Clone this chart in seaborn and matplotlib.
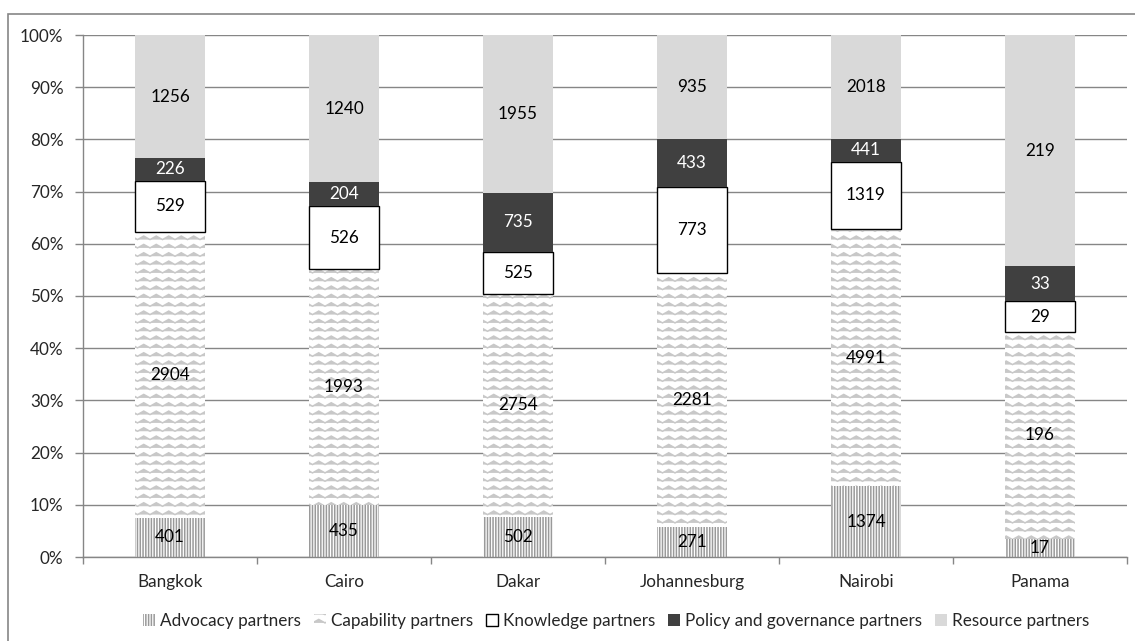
import warnings
import numpy as np
import pandas as pd
import seaborn as sns
import matplotlib.pyplot as plt
import matplotlib.hatch as mhatch
from matplotlib.path import Path
from matplotlib.patches import Patch, Rectangle
from matplotlib.ticker import PercentFormatter, FixedLocator

warnings.filterwarnings("ignore")

cities = ["Bangkok", "Cairo", "Dakar", "Johannesburg", "Nairobi", "Panama"]
advocacy = [401, 435, 502, 271, 1374, 17]
capability = [2904, 1993, 2754, 2281, 4991, 196]
knowledge = [529, 526, 525, 773, 1319, 29]
policy = [226, 204, 735, 433, 441, 33]
resource = [1256, 1240, 1955, 935, 2018, 219]
series_names = ["Advocacy partners", "Capability partners", "Knowledge partners",
                "Policy and governance partners", "Resource partners"]


# wavy hatch ('~') for the capability segments
class WaveHatch(mhatch.HatchPatternBase):
    def __init__(self, hatch, density):
        self.num_lines = int(hatch.count("~") * density)
        self.seg = 16
        self.num_vertices = self.num_lines * (self.seg + 1)

    def set_vertices_and_codes(self, vertices, codes):
        if not self.num_lines:
            return
        xs = np.linspace(0, 1, self.seg + 1)
        amp = 0.42 / self.num_lines
        wave = np.where(np.arange(self.seg + 1) % 2 == 0, 0, amp)
        k = 0
        for i in range(self.num_lines):
            y0 = (i + 0.25) / self.num_lines
            vertices[k:k + self.seg + 1, 0] = xs
            vertices[k:k + self.seg + 1, 1] = y0 + wave
            codes[k] = Path.MOVETO
            codes[k + 1:k + self.seg + 1] = Path.LINETO
            k += self.seg + 1


if WaveHatch not in mhatch._hatch_types:
    mhatch._hatch_types.append(WaveHatch)

sns.set_style("white")
plt.rcParams["font.family"] = ["Lato", "DejaVu Sans"]
plt.rcParams["hatch.linewidth"] = 1.1
fs = 12.3

df = pd.DataFrame({"city": cities, "Advocacy partners": advocacy,
                   "Capability partners": capability, "Knowledge partners": knowledge,
                   "Policy and governance partners": policy, "Resource partners": resource})
counts = df[series_names].values
pct = counts / counts.sum(axis=1, keepdims=True) * 100
bottoms = np.hstack([np.zeros((len(cities), 1)), np.cumsum(pct, axis=1)[:, :-1]])

styles = [
    dict(color="white", edgecolor="#9a9a9a", hatch="||||||", linewidth=0),
    dict(color="white", edgecolor="#c8c8c8", hatch="~~", linewidth=0),
    dict(color="white", edgecolor="black", linewidth=1.0),
    dict(color="#404040", edgecolor="#404040", linewidth=0),
    dict(color="#d9d9d9", edgecolor="#d9d9d9", linewidth=0),
]
label_colors = ["black", "black", "black", "white", "black"]

fig = plt.figure(figsize=(11.35, 6.41), dpi=100)
ax = fig.add_axes([83 / 1135, 1 - 557 / 641, (1127 - 83) / 1135, (557 - 35) / 641])

for j, name in enumerate(series_names):
    sns.barplot(x=cities, y=pct[:, j], bottom=bottoms[:, j], width=0.4, ax=ax,
                **styles[j])
    ax.bar_label(ax.containers[-1], labels=[str(v) for v in counts[:, j]],
                 label_type="center", fontsize=fs, color=label_colors[j])

ax.set_ylim(0, 100)
ax.set_xlim(-0.5, len(cities) - 0.5)
ax.set_yticks(np.arange(0, 101, 10))
ax.yaxis.set_major_formatter(PercentFormatter(decimals=0))
ax.grid(axis="y", color="#868686", linewidth=1)
ax.set_axisbelow(True)
ax.xaxis.set_minor_locator(FixedLocator(np.arange(-0.5, len(cities), 1)))
ax.tick_params(axis="x", which="major", length=0, pad=12, labelsize=fs)
ax.tick_params(axis="x", which="minor", length=5, color="#868686", width=1)
ax.tick_params(axis="y", length=6, color="#868686", width=1, labelsize=fs, pad=8)
ax.yaxis.set_ticks_position("left")
ax.xaxis.set_ticks_position("bottom")
for side in ["top", "right"]:
    ax.spines[side].set_visible(False)
for side in ["left", "bottom"]:
    ax.spines[side].set_color("#868686")
    ax.spines[side].set_linewidth(1)
ax.set_xlabel("")
ax.set_ylabel("")

handles = [Patch(facecolor=s["color"], edgecolor=s["edgecolor"], hatch=s.get("hatch"),
                 linewidth=s["linewidth"] if s["linewidth"] else 0) for s in styles]
fig.legend(handles, series_names, loc="center", bbox_to_anchor=(0.543, 1 - 621 / 641),
           ncol=5, frameon=False, fontsize=fs, handlelength=0.7, handleheight=0.7,
           handletextpad=0.3, columnspacing=0.75)

fig.patches.append(Rectangle((8 / 1135, -0.1), 1.2, 1 - 14 / 641 + 0.1, fill=False,
                             edgecolor="#868686", linewidth=1.2, transform=fig.transFigure))

fig.savefig("out.png", dpi=100)
